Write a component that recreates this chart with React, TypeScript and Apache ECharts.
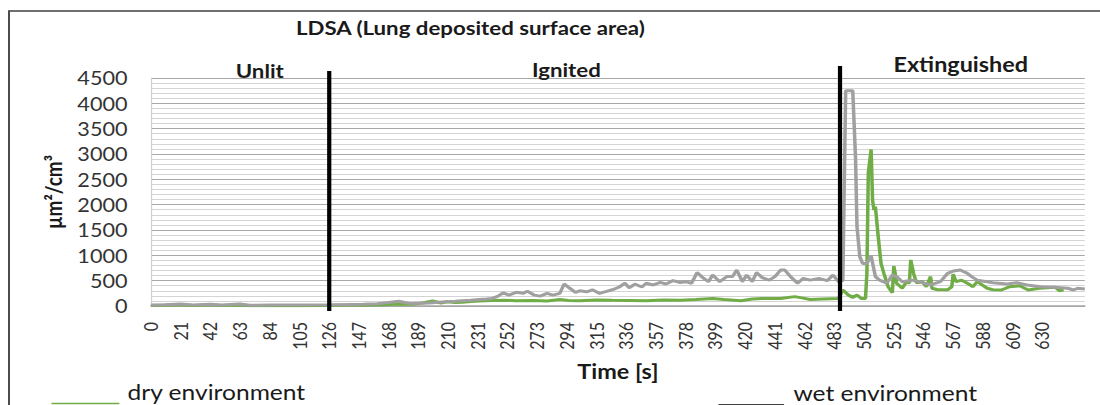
import React, { useEffect, useRef } from "react";
import * as echarts from "echarts";

// ---- data (time in seconds, LDSA in µm²/cm³) ----
const wetTime = [0, 10, 21, 30, 42, 50, 63, 70, 84, 105, 126, 140, 150, 160, 168, 175, 183, 190, 197, 203, 209, 215, 220, 226, 232, 237, 241, 245, 249, 253, 258, 263, 266, 271, 275, 280, 284, 289, 292, 296, 300, 303, 308, 312, 317, 322, 326, 331, 335, 338, 342, 347, 350, 355, 360, 364, 369, 374, 378, 382, 386, 390, 394, 397, 402, 407, 411, 414, 418, 421, 425, 428, 432, 437, 441, 445, 448, 452, 457, 461, 466, 472, 478, 482, 486, 489, 491, 496, 498, 499, 501, 503, 506, 509, 512, 515, 520, 524, 527, 531, 538, 543, 551, 558, 563, 567, 572, 577, 580, 584, 591, 595, 605, 612, 619, 629, 638, 648, 652, 655, 660];
const wetValue = [20, 25, 40, 20, 35, 20, 40, 15, 20, 20, 25, 30, 35, 45, 70, 95, 50, 55, 60, 75, 85, 95, 105, 115, 130, 140, 150, 190, 260, 215, 270, 250, 290, 215, 195, 250, 215, 250, 435, 350, 270, 300, 280, 320, 250, 290, 320, 375, 450, 360, 430, 375, 450, 415, 465, 435, 500, 465, 480, 445, 660, 560, 480, 610, 480, 580, 580, 710, 480, 610, 480, 660, 560, 510, 580, 710, 710, 580, 450, 545, 510, 545, 500, 610, 480, 500, 4250, 4250, 2900, 1565, 970, 840, 840, 985, 580, 510, 450, 610, 580, 480, 510, 480, 415, 480, 645, 690, 710, 645, 580, 510, 480, 460, 434, 460, 414, 382, 370, 350, 316, 350, 335];

const dryTime = [0, 21, 30, 42, 50, 63, 70, 105, 126, 143, 150, 168, 175, 185, 192, 199, 205, 209, 215, 220, 226, 232, 241, 250, 258, 270, 280, 289, 295, 303, 315, 326, 338, 350, 362, 374, 385, 397, 405, 417, 425, 432, 445, 455, 460, 466, 475, 486, 489, 493, 496, 499, 502, 505, 506, 507, 509, 510, 511, 512, 514, 516, 518, 521, 524, 525, 526, 527, 531, 534, 536, 537, 539, 541, 545, 548, 551, 552, 556, 563, 566, 567, 569, 573, 577, 581, 584, 591, 595, 601, 607, 614, 620, 628, 639, 642, 645];
const dryValue = [10, 25, 10, 25, 10, 20, 5, 5, 10, 25, 15, 30, 40, 35, 60, 100, 60, 85, 70, 75, 90, 100, 110, 115, 105, 110, 100, 130, 110, 105, 120, 115, 110, 105, 120, 115, 130, 150, 130, 105, 140, 150, 150, 185, 160, 130, 140, 150, 315, 215, 170, 215, 150, 150, 645, 2620, 3090, 2090, 1895, 1960, 1370, 840, 645, 380, 262, 790, 645, 450, 350, 480, 450, 910, 645, 460, 480, 380, 580, 350, 320, 320, 380, 630, 480, 510, 450, 380, 480, 350, 320, 316, 382, 400, 316, 350, 370, 300, 320];

const seriesNames = ["dry environment", "wet environment"];
const phaseNames = ["Unlit", "Ignited", "Extinguished"];
const phaseBoundaries = [126, 487];

const X_MAX = 660;
const X_STEP = 21;
const X_LAST_LABEL = 630;
const Y_MAX = 4500;
const Y_STEP = 500;

const titleText = "LDSA (Lung deposited surface area)";
const xName = "Time [s]";
const yName = "µm²/cm³";

// ---- layout ----
const PAGE_W = 1100;
const PAGE_H = 405;
const INNER_W = 940;
const STRETCH = PAGE_W / INNER_W;
const FONT = "Lato, 'Open Sans', sans-serif";
const GREEN = "#70AD47";
const GRAY = "#A0A0A0";

export default function App() {
  const ref = useRef<HTMLDivElement>(null);

  useEffect(() => {
    if (!ref.current) return;
    const chart = echarts.init(ref.current, null, { renderer: "svg" });
    const zip = (t: number[], v: number[]) => t.map((x, i) => [x, v[i]]);

    chart.setOption({
      animation: false,
      backgroundColor: "#ffffff",
      grid: { left: 129, right: 13, top: 78, bottom: 99 },
      xAxis: {
        type: "value",
        min: 0,
        max: X_MAX,
        interval: X_STEP,
        name: xName,
        nameLocation: "middle",
        nameGap: 56,
        nameTextStyle: { fontFamily: FONT, fontWeight: "bold", fontSize: 20, color: "#1a1a1a" },
        axisLine: { show: true, lineStyle: { color: "#a6a6a6", width: 1.5 } },
        axisTick: { show: false },
        splitLine: { show: false },
        axisLabel: {
          rotate: 90,
          margin: 16,
          fontFamily: FONT,
          fontSize: 16,
          color: "#333333",
          showMaxLabel: false,
          formatter: (v: number) => (v <= X_LAST_LABEL && v % X_STEP === 0 ? String(v) : ""),
        },
      },
      yAxis: {
        type: "value",
        min: 0,
        max: Y_MAX,
        interval: Y_STEP,
        name: yName,
        nameLocation: "middle",
        nameGap: 63,
        nameTextStyle: { fontFamily: FONT, fontWeight: "bold", fontSize: 19, color: "#1a1a1a" },
        axisLine: { show: true, lineStyle: { color: "#d0d0d0", width: 1 } },
        axisTick: { show: false },
        axisLabel: {
          margin: 20,
          fontFamily: FONT,
          fontSize: 18.5,
          color: "#333333",
          formatter: (v: number) => String(v),
        },
        splitLine: { show: true, lineStyle: { color: "#a8a8a8", width: 1 } },
        minorTick: { show: false, splitNumber: 5 },
        minorSplitLine: { show: true, lineStyle: { color: "#d4d4d4", width: 1 } },
      },
      series: [
        {
          name: seriesNames[0],
          type: "line",
          data: zip(dryTime, dryValue),
          showSymbol: false,
          lineStyle: { color: GREEN, width: 3 },
          itemStyle: { color: GREEN },
          z: 2,
        },
        {
          name: seriesNames[1],
          type: "line",
          data: zip(wetTime, wetValue),
          showSymbol: false,
          lineStyle: { color: GRAY, width: 3 },
          itemStyle: { color: GRAY },
          z: 3,
        },
      ],
    });

    const yBottom = chart.convertToPixel({ gridIndex: 0 }, [0, 0])[1];
    const yTop = chart.convertToPixel({ gridIndex: 0 }, [0, Y_MAX])[1];
    const lineTops = [yTop - 7, yTop - 12];
    const markerLines = phaseBoundaries.map((t, i) => {
      const x = chart.convertToPixel({ gridIndex: 0 }, [t, 0])[0];
      return {
        type: "line",
        z: 10,
        shape: { x1: x, y1: lineTops[i], x2: x, y2: yBottom + 5 },
        style: { stroke: "#000000", lineWidth: 3.6 },
      };
    });

    const bold = (text: string, x: number, y: number, size: number) => ({
      type: "text",
      x,
      y,
      z: 10,
      style: {
        text,
        fontFamily: FONT,
        fontWeight: "bold",
        fontSize: size,
        fill: "#1a1a1a",
        align: "center",
        verticalAlign: "middle",
      },
    });

    chart.setOption({
      graphic: {
        elements: [
          {
            type: "rect",
            z: 0,
            shape: { x: 7.7, y: 11, width: 2000, height: 1000 },
            style: { fill: "none", stroke: "#404040", lineWidth: 1.6 },
          },
          bold(titleText, 402, 28, 19),
          bold(phaseNames[0], 222, 71, 19),
          bold(phaseNames[1], 484, 70, 19),
          bold(phaseNames[2], 821, 65, 20),
          ...markerLines,
          {
            type: "line",
            shape: { x1: 44, y1: 403.5, x2: 102, y2: 403.5 },
            style: { stroke: GREEN, lineWidth: 1.3 },
          },
          {
            type: "text",
            x: 109,
            y: 392,
            style: { text: seriesNames[0], fontFamily: FONT, fontSize: 21, fill: "#1a1a1a", align: "left", verticalAlign: "middle" },
          },
          {
            type: "line",
            shape: { x1: 614, y1: 404.5, x2: 670, y2: 404.5 },
            style: { stroke: "#404040", lineWidth: 1.2 },
          },
          {
            type: "text",
            x: 678,
            y: 393,
            style: { text: seriesNames[1], fontFamily: FONT, fontSize: 21, fill: "#1a1a1a", align: "left", verticalAlign: "middle" },
          },
        ],
      },
    });

    return () => chart.dispose();
  }, []);

  return (
    <div
      style={{
        position: "fixed",
        left: 0,
        top: 0,
        width: PAGE_W,
        height: PAGE_H,
        overflow: "hidden",
        background: "#ffffff",
      }}
    >
      <div
        ref={ref}
        style={{
          width: INNER_W,
          height: PAGE_H,
          transform: `scaleX(${STRETCH})`,
          transformOrigin: "0 0",
        }}
      />
    </div>
  );
}
